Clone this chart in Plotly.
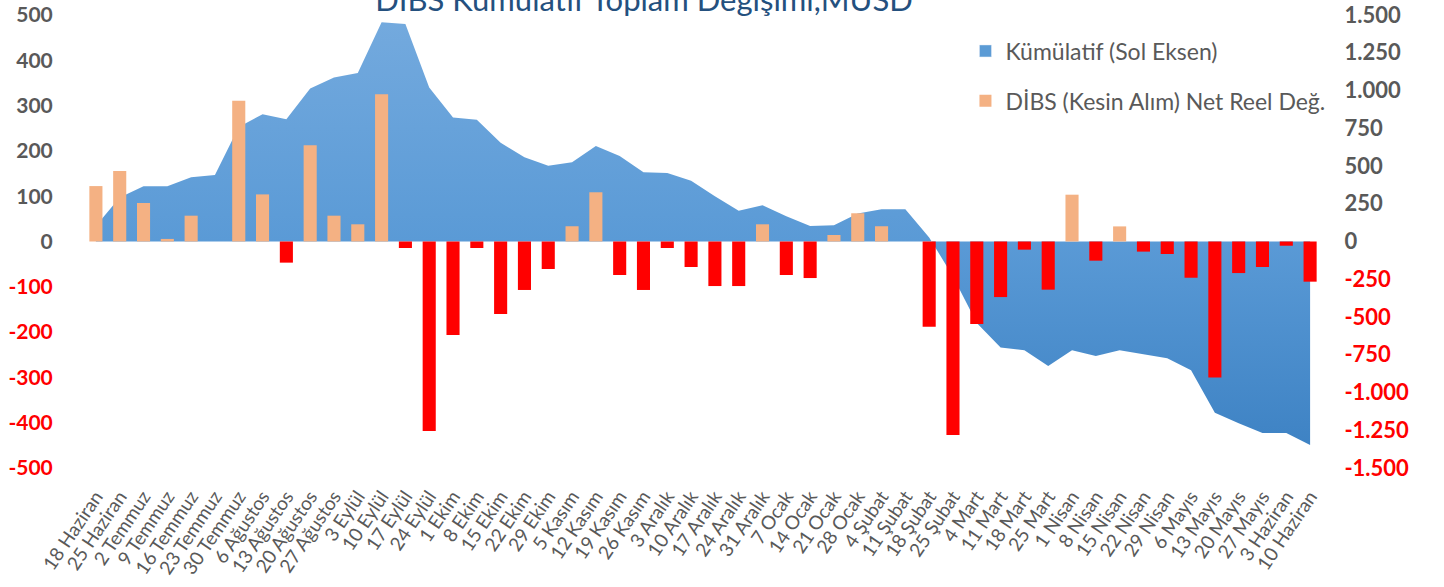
import plotly.graph_objects as go

categories = [
    "18 Haziran", "25 Haziran", "2 Temmuz", "9 Temmuz", "16 Temmuz", "23 Temmuz",
    "30 Temmuz", "6 Ağustos", "13 Ağustos", "20 Ağustos", "27 Ağustos", "3 Eylül",
    "10 Eylül", "17 Eylül", "24 Eylül", "1 Ekim", "8 Ekim", "15 Ekim", "22 Ekim",
    "29 Ekim", "5 Kasım", "12 Kasım", "19 Kasım", "26 Kasım", "3 Aralık",
    "10 Aralık", "17 Aralık", "24 Aralık", "31 Aralık", "7 Ocak", "14 Ocak",
    "21 Ocak", "28 Ocak", "4 Şubat", "11 Şubat", "18 Şubat", "25 Şubat", "4 Mart",
    "11 Mart", "18 Mart", "25 Mart", "1 Nisan", "8 Nisan", "15 Nisan", "22 Nisan",
    "29 Nisan", "6 Mayıs", "13 Mayıs", "20 Mayıs", "27 Mayıs", "3 Haziran",
    "10 Haziran",
]

# Kümülatif (left axis)
cumulative = [
    34, 97, 122, 122, 142, 147, 253, 281, 270, 338, 362, 372, 484, 480, 340,
    274, 269, 218, 186, 167, 175, 211, 189, 153, 151, 134, 100, 68, 80, 56,
    34, 36, 62, 71, 71, 9, -77, -180, -234, -240, -275, -240, -253, -240,
    -249, -258, -284, -378, -401, -423, -423, -449,
]

# DİBS (Kesin Alım) Net Reel Değ. (right axis)
weekly = [
    367, 467, 255, 17, 171, 0, 932, 312, -140, 637, 171, 114, 975, -43, -1255,
    -619, -43, -480, -321, -182, 101, 326, -222, -321, -43, -169, -295, -295,
    114, -222, -242, 43, 187, 101, 0, -564, -1282, -546, -368, -54, -319, 310,
    -127, 100, -67, -83, -240, -900, -209, -169, -28, -266,
]

left_ticks = [500, 400, 300, 200, 100, 0, -100, -200, -300, -400, -500]
right_ticks = [1500, 1250, 1000, 750, 500, 250, 0, -250, -500, -750, -1000, -1250, -1500]

title_text = "DİBS Kümülatif Toplam Değişimi,MUSD"
name_cum = "Kümülatif (Sol Eksen)"
name_bar = "DİBS (Kesin Alım) Net Reel Değ."

GRAY = "#595959"
RED = "#FF0000"
PEACH = "#F4B183"
BLUE = "#5B9BD5"
FONT = "Lato"


def fmt(v):
    s = f"{abs(v):,}".replace(",", ".")
    return ("-" + s) if v < 0 else s


def colored(v):
    t = fmt(v)
    return f'<span style="color:{RED}">{t}</span>' if v < 0 else t


left_text = [colored(v) for v in left_ticks]
right_text = [colored(v) for v in right_ticks]
bar_colors = [PEACH if v >= 0 else RED for v in weekly]

fig = go.Figure()

fig.add_trace(go.Scatter(
    x=categories, y=cumulative, name=name_cum, mode="lines",
    line=dict(width=0, color=BLUE), fill="tozeroy",
    fillgradient=dict(type="vertical",
                      colorscale=[[0, "#3b80c2"], [0.5, "#5a9ad6"], [1, "#74aade"]],
                      start=-500, stop=500),
    showlegend=False, legendgroup="a", hoverinfo="skip", yaxis="y",
))
# legend entry for the area (square swatch like the original)
fig.add_trace(go.Bar(
    x=[categories[0]], y=[None], name=name_cum, marker=dict(color=BLUE),
    legendgroup="a", showlegend=True, yaxis="y", hoverinfo="skip",
))
fig.add_trace(go.Bar(
    x=categories, y=weekly, name=name_bar, marker=dict(color=bar_colors, line=dict(width=0)),
    legendgroup="b", yaxis="y2", hoverinfo="skip",
))

n = len(categories)
boundaries = [i - 0.5 for i in range(n + 1)]

fig.update_layout(
    width=1444, height=587,
    margin=dict(l=84, r=122, t=15, b=119, autoexpand=False),
    paper_bgcolor="white", plot_bgcolor="white",
    barmode="overlay", bargap=0.45,
    font=dict(family=FONT, color=GRAY),
    title=dict(text=title_text, x=0.446, xref="container", xanchor="center",
               y=1.0, yref="container", yanchor="middle", automargin=False,
               font=dict(family=FONT, size=31, color="#24507e")),
    legend=dict(x=0.712, xanchor="left", y=0.968, yanchor="top",
                font=dict(family=FONT, size=23, color=GRAY),
                traceorder="grouped", tracegroupgap=17,
                bgcolor="rgba(0,0,0,0)"),
    xaxis=dict(type="category", categoryorder="array", categoryarray=categories,
               range=[-0.5, n - 0.5], tickangle=-56, automargin=False,
               tickmode="linear", tick0=0, dtick=1,
               tickfont=dict(family=FONT, size=19, color=GRAY),
               ticks="outside", ticklen=9, tickcolor="rgba(0,0,0,0)",
               showgrid=False, showline=False, zeroline=False),
    xaxis2=dict(overlaying="x", anchor="free", position=0.5, type="linear",
                range=[-0.5, n - 0.5], tickvals=boundaries, automargin=False,
                ticks="outside", ticklen=4, tickwidth=1.5, tickcolor="#d0d0d0",
                showline=True, linecolor="#d0d0d0", linewidth=2,
                showticklabels=False, showgrid=False, zeroline=False),
    yaxis=dict(range=[-500, 500], tickvals=left_ticks, ticktext=left_text, automargin=False,
               tickfont=dict(family=FONT, size=21, color=GRAY, weight="bold"),
               ticks="outside", ticklen=26, tickcolor="rgba(0,0,0,0)",
               showgrid=False, zeroline=False, showline=False),
    yaxis2=dict(overlaying="y", side="right", range=[-1500, 1500], automargin=False,
                tickvals=right_ticks, ticktext=right_text,
                tickfont=dict(family=FONT, size=22, color=GRAY, weight="bold"),
                ticks="outside", ticklen=17, tickcolor="rgba(0,0,0,0)",
                showgrid=False, zeroline=False, showline=False),
)

fig.write_html("out.html", config={"displayModeBar": False},
               post_script="document.body.style.margin='0';")
